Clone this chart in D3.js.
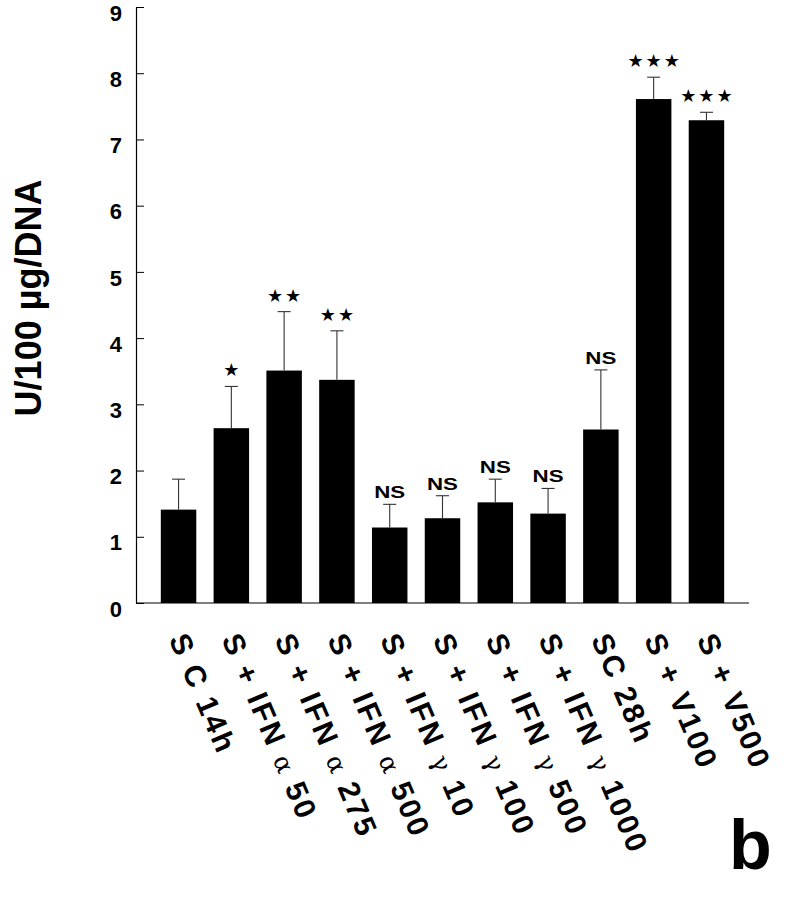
<!DOCTYPE html>
<html>
<head>
<meta charset="utf-8">
<script src="https://cdn.jsdelivr.net/npm/d3@7/dist/d3.min.js"></script>
<style>
  html, body { margin: 0; padding: 0; background: #fff; }
  svg { display: block; }
</style>
</head>
<body>
<div id="chart"></div>
<script>
// ---- data ----
const categories = [
  "S C 14h",
  "S + IFN α 50",
  "S + IFN α 275",
  "S + IFN α 500",
  "S + IFN γ 10",
  "S + IFN γ 100",
  "S + IFN γ 500",
  "S + IFN γ 1000",
  "SC 28h",
  "S + V100",
  "S + V500"
];
const means  = [1.41, 2.64, 3.51, 3.37, 1.14, 1.28, 1.52, 1.35, 2.62, 7.61, 7.29];
const errors = [0.46, 0.63, 0.89, 0.74, 0.35, 0.34, 0.35, 0.38, 0.90, 0.33, 0.12];
const significance = ["", "*", "**", "**", "NS", "NS", "NS", "NS", "NS", "***", "***"];
const yTicks = [0, 1, 2, 3, 4, 5, 6, 7, 8, 9];
const yLabel = "U/100 µg/DNA";
const panelLetter = "b";

// ---- layout ----
const W = 787, H = 899;
const svg = d3.select("#chart").append("svg").attr("width", W).attr("height", H);
svg.append("rect").attr("width", W).attr("height", H).attr("fill", "#fff");

const FONT = "'Liberation Sans', Arial, Helvetica, sans-serif";

const y = d3.scaleLinear().domain([0, 9]).range([603, 7]);
const x = d3.scaleBand().domain(categories).range([136, 749])
  .paddingInner(0.328).paddingOuter(0.47);

const data = categories.map((c, i) => ({ c, m: means[i], e: errors[i], s: significance[i] }));

// bars
svg.append("g").selectAll("rect").data(data).join("rect")
  .attr("x", d => x(d.c))
  .attr("y", d => y(d.m))
  .attr("width", x.bandwidth())
  .attr("height", d => y(0) - y(d.m))
  .attr("fill", "#000");

// error bars (upper only)
const eg = svg.append("g").attr("stroke", "#333").attr("stroke-width", 1.1).attr("fill", "none");
data.forEach(d => {
  const cx = x(d.c) + x.bandwidth() / 2;
  eg.append("line").attr("x1", cx).attr("x2", cx).attr("y1", y(d.m)).attr("y2", y(d.m + d.e));
  eg.append("line").attr("x1", cx - 6.5).attr("x2", cx + 6.5).attr("y1", y(d.m + d.e)).attr("y2", y(d.m + d.e));
});

// significance marks
const sg = svg.append("g");
data.forEach(d => {
  if (!d.s) return;
  const cx = x(d.c) + x.bandwidth() / 2;
  const top = y(d.m + d.e);
  if (d.s === "NS") {
    sg.append("text").attr("x", cx).attr("y", top - 6)
      .attr("text-anchor", "middle")
      .attr("font-family", FONT).attr("font-weight", "bold").attr("font-size", 17)
      .attr("textLength", 31).attr("lengthAdjust", "spacingAndGlyphs")
      .text("NS");
  } else {
    sg.append("text").attr("x", cx + 1).attr("y", top - 10)
      .attr("text-anchor", "middle")
      .attr("font-family", "'DejaVu Sans', sans-serif").attr("font-size", 18)
      .attr("letter-spacing", 2)
      .text(d.s.replace(/\*/g, "★"));
  }
});

// y axis
const yAxis = d3.axisLeft(y).tickValues(yTicks).tickFormat(d3.format("d"))
  .tickSizeInner(-8).tickSizeOuter(0).tickPadding(14);
const ya = svg.append("g").attr("transform", "translate(136,0)").call(yAxis);
ya.select(".domain").attr("stroke", "#000").attr("stroke-width", 1.2);
ya.selectAll(".tick line").attr("stroke", "#000").attr("stroke-width", 1);
ya.selectAll(".tick text")
  .attr("font-family", FONT).attr("font-weight", "bold").attr("font-size", 22)
  .attr("fill", "#000").attr("dy", "0.6em");

// x axis line (no ticks)
const xr = x.range();
svg.append("line").attr("x1", xr[0]).attr("x2", xr[1]).attr("y1", y(0)).attr("y2", y(0))
  .attr("stroke", "#000").attr("stroke-width", 1.2);

// x labels, rotated
const angle = 67;
const lg = svg.append("g");
categories.forEach(c => {
  const cx = x(c) + x.bandwidth() / 2;
  const t = lg.append("text")
    .attr("transform", `translate(${cx - 10},639) rotate(${angle})`)
    .attr("font-family", FONT).attr("font-weight", "bold").attr("font-size", 30)
    .attr("letter-spacing", 2.5)
    .attr("fill", "#000");
  const parts = c.split(/([αγ])/);
  parts.forEach(p => {
    if (!p) return;
    if (p === "α" || p === "γ") {
      t.append("tspan").attr("font-family", "'DejaVu Serif', serif")
        .attr("font-weight", "normal").attr("font-size", 25).text(p);
    } else {
      t.append("tspan").text(p);
    }
  });
});

// y-axis title
svg.append("text")
  .attr("transform", "translate(41,298) rotate(-90)")
  .attr("text-anchor", "middle")
  .attr("font-family", FONT).attr("font-weight", "bold").attr("font-size", 36)
  .attr("fill", "#000")
  .text(yLabel);

// panel letter
svg.append("text").attr("x", 729).attr("y", 869)
  .attr("font-family", FONT).attr("font-weight", "bold").attr("font-size", 70)
  .attr("fill", "#000").text(panelLetter);
</script>
</body>
</html>
